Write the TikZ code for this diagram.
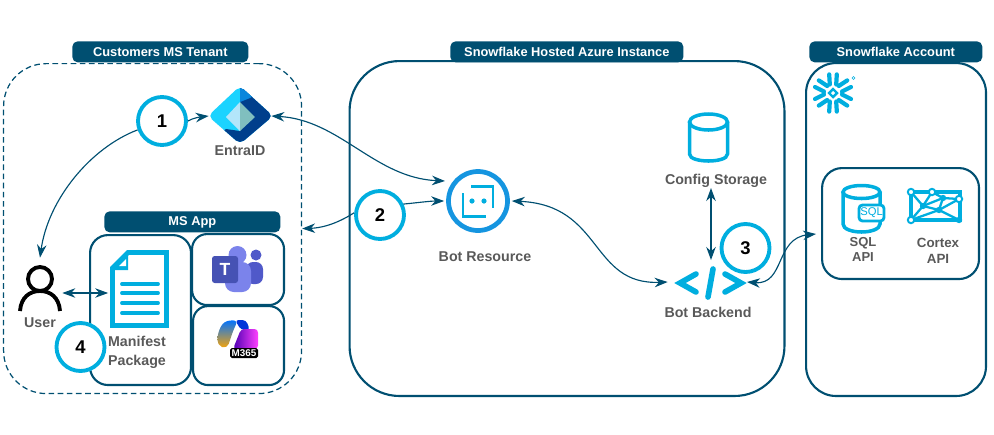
\documentclass[tikz,border=0pt]{standalone}
\usepackage{fontspec}
\setmainfont{Liberation Sans}
\usetikzlibrary{arrows.meta}
\definecolor{navy}{HTML}{004F71}
\definecolor{sky}{HTML}{00AEDF}
\definecolor{inkgray}{HTML}{595959}
\definecolor{entralight}{HTML}{1BD3FF}
\definecolor{entradark}{HTML}{003F8C}
\definecolor{entramid}{HTML}{0A86DC}
\definecolor{teamslight}{HTML}{7B83EB}
\definecolor{teamsdark}{HTML}{5059C9}
\definecolor{teamssquare}{HTML}{4652B4}
\definecolor{botblue}{HTML}{1595E0}
\tikzstyle{panel} = [rectangle, draw=navy, line width=1.2pt, minimum height=1cm, minimum width=1cm, inner sep=0pt]
\tikzstyle{dashpanel} = [panel, line width=0.7pt, dash pattern=on 3.2pt off 2pt]
\tikzstyle{banner} = [rectangle, fill=navy, rounded corners=3pt, text=white, font=\bfseries\fontsize{7.3}{9}\selectfont, minimum height=0.42cm, inner sep=0pt]
\tikzstyle{numring} = [circle, draw=sky, fill=white, line width=2.2pt, minimum size=0.96cm, inner sep=0pt, text=black, font=\bfseries\fontsize{10.5}{12}\selectfont]
\tikzstyle{caption} = [text=inkgray, font=\bfseries\fontsize{8.1}{9.8}\selectfont, align=center, inner sep=0pt]
\tikzstyle{smallcaption} = [caption, font=\bfseries\fontsize{7.4}{8.7}\selectfont]
\tikzstyle{spot} = [rectangle, inner sep=0pt]
\tikzstyle{flow} = [draw=navy, line width=0.65pt, -{Stealth[length=0.26cm,width=0.19cm]}]
\tikzstyle{flowboth} = [draw=navy, line width=0.65pt, {Stealth[length=0.26cm,width=0.19cm]}-{Stealth[length=0.26cm,width=0.19cm]}]
\tikzstyle{skyline} = [draw=sky, line width=2pt]

\begin{document}
\begin{tikzpicture}[x=0.02cm,y=-0.02cm]
    \useasboundingbox (0,0) rectangle (994,434);

    % the three zones
    \node [dashpanel, rounded corners=0.85cm, anchor=north west, minimum width=5.96cm, minimum height=6.6cm] (tenant) at (3,63) {};
    \node [panel, rounded corners=1cm, anchor=north west, minimum width=8.7cm, minimum height=6.7cm] (azure) at (348.5,60) {};
    \node [panel, rounded corners=0.6cm, anchor=north west, minimum width=3.6cm, minimum height=6.66cm] (account) at (805,62) {};
    \node [banner, anchor=north west, minimum width=3.52cm] (tenanttitle) at (72,41) {Customers MS Tenant};
    \node [banner, anchor=north west, minimum width=4.66cm] (azuretitle) at (450,41) {Snowflake Hosted Azure Instance};
    \node [banner, anchor=north west, minimum width=3.46cm] (accounttitle) at (809,41) {Snowflake Account};

    % ms app
    \node [banner, anchor=north west, minimum width=3.52cm] (apptitle) at (104,211) {MS App};
    \node [panel, rounded corners=0.36cm, anchor=north west, minimum width=2.02cm, minimum height=3cm] (manifestbox) at (89,234) {};
    \node [panel, rounded corners=0.3cm, anchor=north west, minimum width=1.84cm, minimum height=1.42cm] (teamsbox) at (191,233) {};
    \node [panel, rounded corners=0.3cm, anchor=north west, minimum width=1.82cm, minimum height=1.58cm] (copilotbox) at (192,305) {};

    % api box
    \node [panel, rounded corners=0.4cm, anchor=north west, minimum width=3.14cm, minimum height=2.22cm] (apibox) at (821,167) {};

    % spots the connectors end on
    \node [spot, minimum width=1.24cm, minimum height=1.08cm] (entra) at (240,116) {};
    \node [spot, circle, minimum size=1.34cm] (bot) at (478,201) {};
    \node [spot, minimum width=1.6cm, minimum height=0.7cm] (backend) at (708,282) {};
    \node [spot, minimum width=0.88cm, minimum height=1.4cm] (user) at (40,293) {};
    \node [spot, minimum width=1.22cm, minimum height=1.56cm] (doc) at (139,289) {};
    \coordinate (botupper) at (445,181);
    \coordinate (backendright) at (747,282);
    \coordinate (apiin) at (816,234);
    \coordinate (backendtop) at (711,260);
    \coordinate (configfoot) at (711,188);

    % entra id
    \begin{scope}
        \clip [rounded corners=3pt] (240,86) -- (273,116) -- (240,144) -- (208,116) -- cycle;
        \fill [entralight] (200,80) rectangle (280,150);
        \fill [entradark] (240,80) rectangle (280,150);
        \fill [entramid] (240,80) -- (280,80) -- (250,98) -- (240,102) -- cycle;
        \fill [entradark] (240,150) -- (240,131) -- (226,129) -- (222,132) -- cycle;
    \end{scope}
    \fill [cyan!30!white] (226,117) -- (240,102) -- (240,131) -- cycle;
    \fill [teal!50!white] (255,117) -- (240,102) -- (240,131) -- cycle;
    \node [caption] (entralabel) at (240,151) {EntraID};

    % user
    \draw [line width=2.2pt] (40,279) circle (12);
    \draw [line width=2.2pt] (20,311) .. controls (21,297) and (30,291) .. (40,291) .. controls (50,291) and (59,297) .. (60,311);
    \node [caption] (userlabel) at (40,323) {User};

    % manifest file
    \draw [skyline, line width=2.8pt, line join=miter] (128,252.5) -- (166.5,252.5) -- (166.5,325.5) -- (112.5,325.5) -- (112.5,268) -- cycle;
    \fill [sky] (128,250) -- (128,270) -- (110,270) -- cycle;
    \fill [white] (126,259) -- (126,266) -- (119,266) -- cycle;
    \foreach \liney in {284,293,303,313}
        \draw [sky, line width=2.2pt, line cap=round] (122,\liney) -- (158,\liney);
    \node [caption, anchor=center] (manifestlabel) at (137,352.5) {Manifest\\[1.2pt]Package};

    % teams
    \fill [teamslight] (237.5,255) circle (9);
    \fill [teamsdark] (256,255) circle (5.5);
    \fill [teamsdark, rounded corners=4pt] (246,262) -- (263,262) -- (263,284) -- (246,284) -- cycle;
    \fill [teamslight, rounded corners=5pt] (225,262) -- (251,262) -- (251,292) -- (225,292) -- cycle;
    \fill [teamssquare, rounded corners=1.5pt] (212,256) rectangle (238,283);
    \node [text=white, font=\bfseries\fontsize{10}{12}\selectfont, inner sep=0pt] (teamsT) at (225,269.5) {T};

    % copilot m365
    \shade [top color=blue!55!cyan, middle color=green!55!teal!85!white, bottom color=orange!70!yellow, rounded corners=3pt]
        (224,321) -- (238,320) -- (233,331) -- (227,349) -- (217,345) -- (218,332) -- cycle;
    \fill [blue!75!cyan!85!black, rounded corners=2pt] (235,320) -- (246,320) -- (250,330) -- (241,330) -- cycle;
    \shade [left color=violet!60!blue, right color=magenta!75!white, rounded corners=2pt]
        (241,329) -- (258,329) -- (258,349) -- (233,349) -- cycle;
    \node [fill=black, text=white, rounded corners=1pt, minimum width=0.56cm, minimum height=0.2cm, inner sep=0pt, font=\bfseries\fontsize{5.6}{6}\selectfont] (m365) at (244,353) {M365};

    % bot resource
    \draw [draw=botblue, line width=2.7pt] (478,201) circle (29.5);
    \draw [sky, line width=1.7pt] (471,186) -- (493,186) -- (493,208);
    \draw [sky, line width=1.7pt] (463,193) -- (463,216) -- (486,216);
    \fill [sky] (472,201) circle (2.6);
    \fill [sky] (484,201) circle (2.6);
    \node [caption] (botlabel) at (485,257) {Bot Resource};

    % config storage
    \draw [skyline] (689.5,122) -- (689.5,154) .. controls (689.5,159) and (700,161) .. (708.5,161) .. controls (717,161) and (727.5,159) .. (727.5,154) -- (727.5,122);
    \draw [skyline] (708.5,122) ellipse (19 and 8);
    \node [caption] (configlabel) at (716,181) {Config Storage};

    % bot backend
    \draw [sky, line width=3.2pt, line cap=round] (696,274) -- (680,283) -- (696,292);
    \draw [sky, line width=3.2pt, line cap=round] (713,269) -- (708,297);
    \draw [sky, line width=3.2pt, line cap=round] (725,274) -- (741,283) -- (725,292);
    \node [caption] (backendlabel) at (708,312) {Bot Backend};

    % snowflake
    \begin{scope}[shift={(833,93)}]
        \foreach \arm in {30,90,150,210,270,330}
            \draw [sky, line width=2.4pt, line cap=round, rotate=\arm] (-1.5,-9) -- (-6,-18) (1.5,-9) -- (6,-18);
        \draw [sky, line width=1.4pt] (0,-4) -- (4,0) -- (0,4) -- (-4,0) -- cycle;
    \end{scope}
    \draw [sky, line width=0.3pt] (853.5,78) circle (1.6);

    % sql
    \draw [skyline] (843,192) -- (843,224) .. controls (843,229) and (852,232) .. (861.5,232) .. controls (871,232) and (880,229) .. (880,224) -- (880,192);
    \draw [skyline] (861.5,192) ellipse (18.5 and 6.5);
    \node [draw=sky, fill=white, line width=1.6pt, rounded corners=2pt, minimum width=0.5cm, minimum height=0.32cm, inner sep=0pt, text=sky, font=\fontsize{6.4}{8}\selectfont] (sqltag) at (871.5,213) {SQL};
    \node [smallcaption] (sqllabel) at (863,249.5) {SQL\\API};

    % cortex
    \draw [sky, line width=2pt] (911,192) rectangle (960,220);
    \foreach \from/\to in {911/923, 932/923}
        \draw [sky, line width=1.3pt] (\from,192) -- (\to,206);
    \draw [sky, line width=1.3pt] (911,220) -- (923,206) -- (943,198) -- (932,192);
    \draw [sky, line width=1.3pt] (923,206) -- (939,210) -- (959,199) -- (943,198) -- (939,210) -- (959,220);
    \draw [sky, line width=1.3pt] (911,220) -- (939,210);
    \foreach \dotx/\doty in {923/206, 943/198, 939/210, 959/220}
        \fill [sky] (\dotx,\doty) circle (3.2);
    \foreach \ringx/\ringy in {911/192, 932/192, 959/199, 911/220}
        \draw [sky, fill=white, line width=1.1pt] (\ringx,\ringy) circle (3.2);
    \node [smallcaption, font=\bfseries\fontsize{7.6}{9}\selectfont] (cortexlabel) at (938,251) {Cortex\\API};

    % numbered rings
    \node [numring] (one) at (162,121) {1};
    \node [numring] (two) at (380,215) {2};
    \node [numring] (three) at (745.5,248) {3};
    \node [numring] (four) at (80.5,347) {4};

    % connectors
    \draw [flow] (one.east) .. controls (193,118) and (200,117) .. (entra.west);
    \draw [flow] (one.200) .. controls (90,148) and (48,200) .. (user.north);
    \draw [flowboth] (entra.east) .. controls (340,120) and (375,178) .. (botupper);
    \draw [flow] (two.175) .. controls (335,225) and (320,228) .. (tenant.east);
    \draw [flow] (two.25) .. controls (415,203) and (430,201) .. (bot.west);
    \draw [flowboth] (bot.east) .. controls (603,205) and (590,285) .. (backend.west);
    \draw [flowboth] (configfoot) -- (backendtop);
    \draw [flowboth] (backendright) .. controls (785,285) and (775,238) .. (apiin);
    \draw [flowboth] (user.east) -- (user.east -| doc.west);
\end{tikzpicture}
\end{document}
